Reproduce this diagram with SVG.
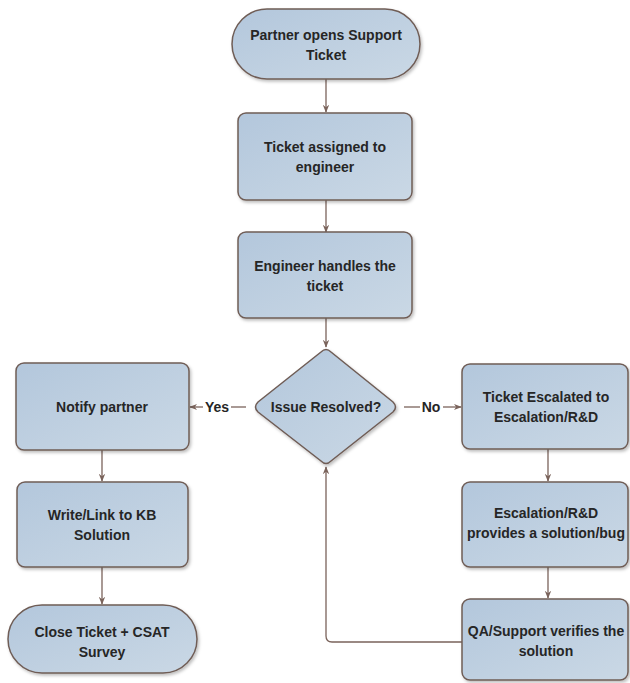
<svg xmlns="http://www.w3.org/2000/svg" width="630" height="683" viewBox="0 0 630 683">
<defs>
<linearGradient id="g" x1="0" y1="0" x2="1" y2="1">
<stop offset="0" stop-color="#b3c7dc"/>
<stop offset="1" stop-color="#cad8e5"/>
</linearGradient>
<marker id="ah" viewBox="0 0 10 10" refX="9" refY="5" markerWidth="8" markerHeight="8" markerUnits="userSpaceOnUse" orient="auto">
<path d="M0,1 L10,5 L0,9 L3,5 Z" fill="#7a635b"/>
</marker>
<filter id="sh" x="-10%" y="-10%" width="125%" height="130%">
<feDropShadow dx="1.5" dy="2" stdDeviation="1.5" flood-color="#000" flood-opacity="0.25"/>
</filter>
</defs>
<style>
.n{fill:url(#g);stroke:#6f5d56;stroke-width:1.5;filter:url(#sh)}
.t{font-family:"Liberation Sans",Arial,sans-serif;font-weight:bold;font-size:14px;fill:#262626;text-anchor:middle}
.c{fill:none;stroke:#7a635b;stroke-width:1.3}
.l{font-family:"Liberation Sans",Arial,sans-serif;font-weight:bold;font-size:14px;fill:#262626;text-anchor:middle}
</style>
<rect width="630" height="683" fill="#ffffff"/>
<g id="connectors">
<line class="c" x1="326" y1="79" x2="326" y2="112" marker-end="url(#ah)"/>
<line class="c" x1="326" y1="200" x2="326" y2="232" marker-end="url(#ah)"/>
<line class="c" x1="326" y1="318" x2="326" y2="347" marker-end="url(#ah)"/>
<line class="c" x1="246" y1="407" x2="231" y2="407"/>
<line class="c" x1="203" y1="407" x2="190" y2="407" marker-end="url(#ah)"/>
<text class="l" x="217" y="412">Yes</text>
<line class="c" x1="404" y1="407" x2="420" y2="407"/>
<line class="c" x1="443" y1="407" x2="461" y2="407" marker-end="url(#ah)"/>
<text class="l" x="431" y="412">No</text>
<line class="c" x1="102" y1="450" x2="102" y2="481" marker-end="url(#ah)"/>
<line class="c" x1="102" y1="567" x2="102" y2="604" marker-end="url(#ah)"/>
<line class="c" x1="548" y1="449" x2="548" y2="481" marker-end="url(#ah)"/>
<line class="c" x1="548" y1="567" x2="548" y2="598" marker-end="url(#ah)"/>
<path class="c" d="M462,642 H332 Q326,642 326,636 V467" marker-end="url(#ah)"/>
</g>
<g id="start">
<rect class="n" x="232" y="9" width="188" height="70" rx="35"/>
<text class="t" x="326" y="40">Partner opens Support</text>
<text class="t" x="326" y="60">Ticket</text>
</g>
<g id="assigned">
<rect class="n" x="238" y="113" width="174" height="87" rx="8"/>
<text class="t" x="325" y="152">Ticket assigned to</text>
<text class="t" x="325" y="172">engineer</text>
</g>
<g id="handles">
<rect class="n" x="238" y="232" width="174" height="86" rx="8"/>
<text class="t" x="325" y="271">Engineer handles the</text>
<text class="t" x="325" y="291">ticket</text>
</g>
<g id="decision">
<path class="n" d="M321,352 Q326,347 331,352 L393,402 Q398,407 393,412 L331,461 Q326,466 321,461 L258,412 Q253,407 258,402 Z"/>
<text class="t" x="326" y="412">Issue Resolved?</text>
</g>
<g id="notify">
<rect class="n" x="16" y="363" width="173" height="87" rx="8"/>
<text class="t" x="102" y="412">Notify partner</text>
</g>
<g id="kb">
<rect class="n" x="17" y="482" width="171" height="85" rx="8"/>
<text class="t" x="102" y="520">Write/Link to KB</text>
<text class="t" x="102" y="540">Solution</text>
</g>
<g id="close">
<rect class="n" x="8" y="605" width="189" height="68" rx="34"/>
<text class="t" x="102" y="637">Close Ticket + CSAT</text>
<text class="t" x="102" y="657">Survey</text>
</g>
<g id="escalated">
<rect class="n" x="462" y="364" width="166" height="85" rx="8"/>
<text class="t" x="546" y="402">Ticket Escalated to</text>
<text class="t" x="546" y="422">Escalation/R&amp;D</text>
</g>
<g id="rnd">
<rect class="n" x="462" y="482" width="166" height="85" rx="8"/>
<text class="t" x="546" y="518">Escalation/R&amp;D</text>
<text class="t" x="546" y="538">provides a solution/bug</text>
</g>
<g id="qa">
<rect class="n" x="462" y="599" width="166" height="81" rx="8"/>
<text class="t" x="546" y="636">QA/Support verifies the</text>
<text class="t" x="546" y="656">solution</text>
</g>
</svg>
